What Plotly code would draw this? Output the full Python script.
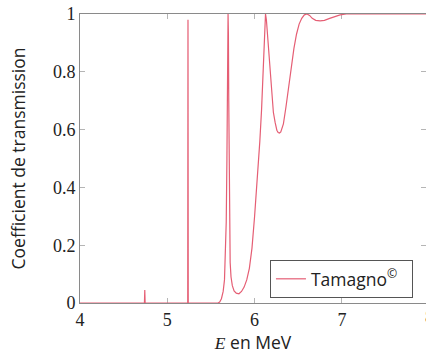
import plotly.graph_objects as go

# Transmission coefficient versus energy (MeV)
energy = [
    4.0, 4.738, 4.742, 4.746, 5.234, 5.237, 5.240,
    5.58, 5.60, 5.62, 5.64, 5.655, 5.665, 5.675, 5.683, 5.689, 5.693, 5.696,
    5.700, 5.704, 5.708, 5.713, 5.72, 5.73, 5.745, 5.765, 5.79, 5.82,
    5.85, 5.88, 5.91, 5.94, 5.97, 6.00, 6.03, 6.06, 6.08, 6.10, 6.115, 6.125,
    6.135, 6.15, 6.17, 6.195, 6.215, 6.235, 6.255, 6.27, 6.285, 6.30, 6.33,
    6.36, 6.39, 6.42, 6.45, 6.48, 6.51, 6.54, 6.57, 6.60, 6.63, 6.66, 6.70,
    6.75, 6.80, 6.86, 6.92, 6.98, 7.05, 8.0,
]
transmission = [
    0.0, 0.0, 0.045, 0.0, 0.0, 0.98, 0.0,
    0.0, 0.003, 0.015, 0.04, 0.08, 0.15, 0.28, 0.5, 0.75, 0.93, 1.0,
    0.93, 0.7, 0.4, 0.22, 0.14, 0.09, 0.06, 0.042, 0.034, 0.032,
    0.04, 0.055, 0.08, 0.12, 0.19, 0.30, 0.42, 0.56, 0.67, 0.82, 0.95, 1.0,
    0.98, 0.92, 0.82, 0.73, 0.66, 0.625, 0.598, 0.59, 0.588, 0.592, 0.62,
    0.68, 0.75, 0.82, 0.88, 0.93, 0.965, 0.985, 0.997, 1.0, 0.995, 0.985, 0.978,
    0.976, 0.978, 0.985, 0.992, 0.997, 1.0, 1.0,
]

x_ticks = [4, 5, 6, 7]
y_ticks = [0, 0.2, 0.4, 0.6, 0.8, 1]
y_tick_text = ["0", "0.2", "0.4", "0.6", "0.8", "1"]

line_color = "rgb(229,94,116)"
frame_color = "#8a8a8a"
tick_color = "#b5b5b5"
serif = "Liberation Serif"
sans = "Open Sans"

fig = go.Figure()
fig.add_trace(go.Scatter(
    x=energy, y=transmission, mode="lines",
    line=dict(color=line_color, width=1.2),
    name="Tamagno<sup>©</sup>  ",
))
# companion trace carrying the right-hand tick marks
fig.add_trace(go.Scatter(
    x=[energy[0]], y=[transmission[0]], yaxis="y2", mode="lines",
    line=dict(color="rgba(0,0,0,0)"), showlegend=False, hoverinfo="skip",
))

x_end = 4 + (426 - 80) / 87.3

fig.update_layout(
    width=426, height=354,
    margin=dict(l=80, r=0, t=14, b=51),
    paper_bgcolor="white", plot_bgcolor="white",
    showlegend=True,
    legend=dict(
        x=0.549, y=0.149, xanchor="left", yanchor="top",
        bgcolor="white", bordercolor="#555555", borderwidth=1,
        font=dict(family=sans, size=17.5, color="#222222"),
        itemwidth=30,
    ),
    xaxis=dict(
        range=[4, x_end], tickvals=x_ticks, ticktext=[str(v) for v in x_ticks],
        ticks="inside", ticklen=5, tickcolor=tick_color,
        showline=True, linecolor=frame_color, linewidth=1, mirror="ticks",
        showgrid=False, zeroline=False, layer="below traces",
        tickfont=dict(family=serif, size=18, color="#222222"),
        title=dict(
            text="<span style=\"font-family:Liberation Serif\"><i>E</i></span> en MeV",
            font=dict(family=sans, size=17.5, color="#222222"), standoff=6,
        ),
    ),
    yaxis=dict(
        range=[0, 1], tickvals=y_ticks, ticktext=y_tick_text,
        ticks="inside", ticklen=5, tickcolor=tick_color,
        showline=True, linecolor=frame_color, linewidth=1, mirror=False,
        showgrid=False, zeroline=False, layer="below traces",
        tickfont=dict(family=serif, size=18, color="#222222"),
        title=dict(
            text="Coefficient de transmission",
            font=dict(family=sans, size=17.5, color="#222222"), standoff=22,
        ),
    ),
    yaxis2=dict(
        range=[0, 1], overlaying="y", side="right", tickvals=y_ticks,
        ticks="inside", ticklen=5, tickcolor=tick_color,
        showticklabels=False, showline=False, showgrid=False, zeroline=False,
    ),
    annotations=[dict(
        text="8", x=(429 - 80) / 346, y=0, xref="paper", yref="paper",
        xanchor="center", yanchor="top", yshift=-2, showarrow=False,
        font=dict(family=serif, size=18, color="#222222"),
    )],
)

fig.write_html("out.html")
